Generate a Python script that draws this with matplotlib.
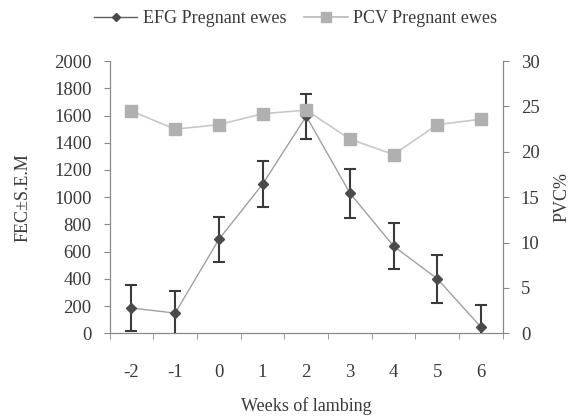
import numpy as np
import matplotlib.pyplot as plt
from matplotlib.lines import Line2D

# data
weeks = ['-2', '-1', '0', '1', '2', '3', '4', '5', '6']
efg_mean = [185, 148, 690, 1095, 1595, 1030, 640, 400, 45]
efg_err = [170, 165, 168, 170, 165, 180, 170, 175, 162]
pcv = [24.5, 22.5, 23.0, 24.2, 24.6, 21.4, 19.7, 23.0, 23.6]

plt.rcParams['font.family'] = ['Liberation Serif', 'DejaVu Serif']
plt.rcParams['font.size'] = 13

x = np.arange(len(weeks))
txt = '#3a3a3a'
axis_col = '#888888'

fig = plt.figure(figsize=(5.74, 4.16), dpi=100)
ax = fig.add_axes([0.191, 0.199, 0.685, 0.654])
ax2 = ax.twinx()

# EFG with error bars on left axis
ax.errorbar(x, efg_mean, yerr=efg_err, color='#a0a0a0', lw=1.0,
            marker='D', ms=5, mfc='#4a4a4a', mec='#4a4a4a',
            ecolor='#3a3a3a', elinewidth=1.5, capsize=4, capthick=1.5,
            zorder=3)

# PCV on right axis
ax2.plot(x, pcv, color='#c8c8c8', lw=1.2, marker='s', ms=8,
         mfc='#b0b0b0', mec='#b0b0b0')

ax.set_xlim(-0.5, len(weeks) - 0.5)
ax.set_ylim(0, 2000)
ax.set_yticks(range(0, 2001, 200))
ax2.set_ylim(0, 30)
ax2.set_yticks(range(0, 31, 5))

ax.set_xticks(x)
ax.set_xticklabels(weeks)
ax.set_xticks(np.arange(-0.5, len(weeks)), minor=True)
ax.tick_params(axis='x', which='major', length=0, pad=22, labelsize=13.5)
ax.tick_params(axis='x', which='minor', length=4, color=axis_col)

for a in (ax, ax2):
    a.spines['top'].set_visible(False)
    for s in ('left', 'right', 'bottom'):
        a.spines[s].set_color(axis_col)
    a.tick_params(axis='y', length=4, pad=9, color=axis_col,
                  labelcolor=txt, labelsize=13.5)
    a.tick_params(axis='x', labelcolor=txt)

ax.set_ylabel('FEC±S.E.M', color=txt, fontsize=13, labelpad=16)
ax2.set_ylabel('PVC%', color=txt, fontsize=13, labelpad=10)
ax.set_xlabel('Weeks of lambing', color=txt, fontsize=13, labelpad=12)

handles = [
    Line2D([], [], color='#606060', lw=1.0, marker='D', ms=4,
           mfc='#4a4a4a', mec='#4a4a4a'),
    Line2D([], [], color='#b8b8b8', lw=1.2, marker='s', ms=7,
           mfc='#b0b0b0', mec='#b0b0b0'),
]
fig.legend(handles, ['EFG Pregnant ewes', 'PCV Pregnant ewes'],
           loc='center', bbox_to_anchor=(0.515, 0.955), ncol=2,
           frameon=False, handlelength=2.4, handletextpad=0.3,
           columnspacing=1.0, labelcolor=txt, fontsize=13)

fig.savefig('out.png', dpi=100)
